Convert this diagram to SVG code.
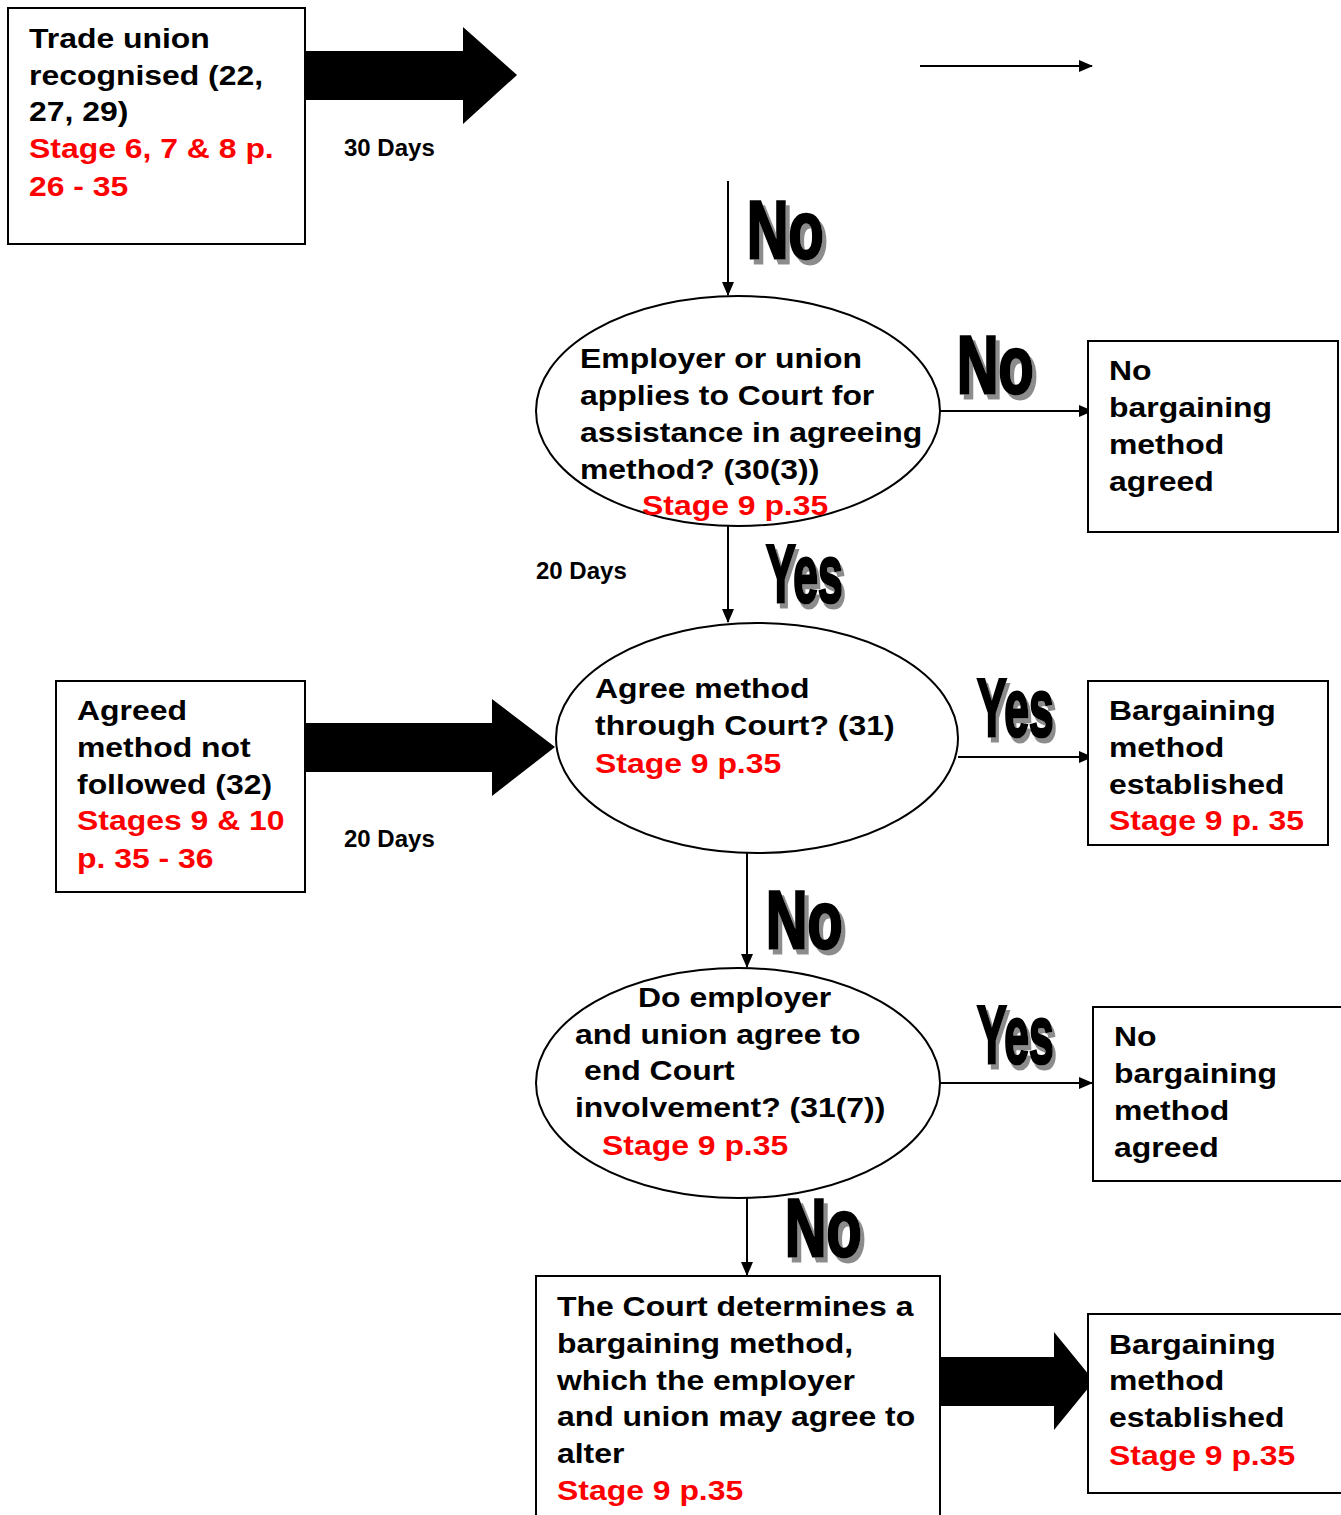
<svg xmlns="http://www.w3.org/2000/svg" width="1341" height="1515" viewBox="0 0 1341 1515">
<style>
.box{fill:#fff;stroke:#000;stroke-width:2}
.t{font-family:"Liberation Sans",Arial,sans-serif;font-weight:bold;font-size:28px;fill:#000}
.r{fill:#f00}
.d{font-family:"Liberation Sans",Arial,sans-serif;font-weight:bold;font-size:24px;fill:#000}
.ln{stroke:#000;stroke-width:2;fill:none}
.big{fill:#000}
.w{font-family:"Liberation Sans",Arial,sans-serif;font-weight:bold;font-size:81px;fill:#000;stroke:#000;stroke-width:3;filter:url(#sh)}
</style>
<defs>
<marker id="ah" markerWidth="14" markerHeight="12" refX="13" refY="6" orient="auto" markerUnits="userSpaceOnUse">
<path d="M0,0 L14,6 L0,12 Z" fill="#000"/>
</marker>
<filter id="sh" x="-20%" y="-20%" width="150%" height="150%">
<feOffset in="SourceAlpha" dx="6" dy="5" result="o"/>
<feFlood flood-color="#8c8c8c"/>
<feComposite in2="o" operator="in" result="s"/>
<feMerge><feMergeNode in="s"/><feMergeNode in="SourceGraphic"/></feMerge>
</filter>
</defs>
<rect width="1341" height="1515" fill="#fff"/>

<g id="connectors">
<path class="big" d="M305,51 H463 V27 L517,75 L463,124 V100 H305 Z"/>
<line class="ln" x1="920" y1="66" x2="1092" y2="66" marker-end="url(#ah)"/>
<line class="ln" x1="728" y1="181" x2="728" y2="295" marker-end="url(#ah)"/>
<line class="ln" x1="940" y1="411" x2="1092" y2="411" marker-end="url(#ah)"/>
<line class="ln" x1="728" y1="526" x2="728" y2="622" marker-end="url(#ah)"/>
<path class="big" d="M305,723 H492 V699 L555,747 L492,796 V772 H305 Z"/>
<line class="ln" x1="958" y1="757" x2="1092" y2="757" marker-end="url(#ah)"/>
<line class="ln" x1="747" y1="853" x2="747" y2="967" marker-end="url(#ah)"/>
<line class="ln" x1="940" y1="1083" x2="1092" y2="1083" marker-end="url(#ah)"/>
<line class="ln" x1="747" y1="1198" x2="747" y2="1275" marker-end="url(#ah)"/>
<path class="big" d="M940,1357 H1054 V1332 L1094,1381 L1054,1430 V1406 H940 Z"/>
</g>

<g id="labels">
<text class="d" x="344" y="156">30 Days</text>
<text class="d" x="536" y="579">20 Days</text>
<text class="d" x="344" y="847">20 Days</text>
<text id="no1" class="w" transform="translate(747,258) scale(0.71,1)">No</text>
<text id="no2" class="w" transform="translate(957,393) scale(0.71,1)">No</text>
<text id="yes1" class="w" transform="translate(766,602) scale(0.55,1)">Yes</text>
<text id="yes2" class="w" transform="translate(977,736) scale(0.55,1)">Yes</text>
<text id="no3" class="w" transform="translate(766,948) scale(0.71,1)">No</text>
<text id="yes3" class="w" transform="translate(977,1063) scale(0.55,1)">Yes</text>
<text id="no4" class="w" transform="translate(785,1256) scale(0.71,1)">No</text>
</g>

<g id="n-recognised">
<rect class="box" x="8" y="8" width="297" height="236"/>
<text class="t" transform="translate(29,48) scale(1.14,1)">Trade union</text>
<text class="t" transform="translate(29,85) scale(1.14,1)">recognised (22,</text>
<text class="t" transform="translate(29,121) scale(1.14,1)">27, 29)</text>
<text class="t r" transform="translate(29,158) scale(1.14,1)">Stage 6, 7 &amp; 8 p.</text>
<text class="t r" transform="translate(29,196) scale(1.14,1)">26 - 35</text>
</g>

<g id="n-applies">
<ellipse class="box" cx="738" cy="411" rx="202" ry="115"/>
<text class="t" transform="translate(580,368) scale(1.14,1)">Employer or union</text>
<text class="t" transform="translate(580,405) scale(1.14,1)">applies to Court for</text>
<text class="t" transform="translate(580,442) scale(1.14,1)">assistance in agreeing</text>
<text class="t" transform="translate(580,479) scale(1.14,1)">method? (30(3))</text>
<text class="t r" transform="translate(642,515) scale(1.14,1)">Stage 9 p.35</text>
</g>

<g id="n-nomethod1">
<rect class="box" x="1088" y="341" width="250" height="191"/>
<text class="t" transform="translate(1109,380) scale(1.14,1)">No</text>
<text class="t" transform="translate(1109,417) scale(1.14,1)">bargaining</text>
<text class="t" transform="translate(1109,454) scale(1.14,1)">method</text>
<text class="t" transform="translate(1109,491) scale(1.14,1)">agreed</text>
</g>

<g id="n-notfollowed">
<rect class="box" x="56" y="681" width="249" height="211"/>
<text class="t" transform="translate(77,720) scale(1.14,1)">Agreed</text>
<text class="t" transform="translate(77,757) scale(1.14,1)">method not</text>
<text class="t" transform="translate(77,794) scale(1.14,1)">followed (32)</text>
<text class="t r" transform="translate(77,830) scale(1.14,1)">Stages 9 &amp; 10</text>
<text class="t r" transform="translate(77,868) scale(1.14,1)">p. 35 - 36</text>
</g>

<g id="n-agree">
<ellipse class="box" cx="757" cy="738" rx="201" ry="115"/>
<text class="t" transform="translate(595,698) scale(1.14,1)">Agree method</text>
<text class="t" transform="translate(595,735) scale(1.14,1)">through Court? (31)</text>
<text class="t r" transform="translate(595,773) scale(1.14,1)">Stage 9 p.35</text>
</g>

<g id="n-established1">
<rect class="box" x="1088" y="681" width="240" height="164"/>
<text class="t" transform="translate(1109,720) scale(1.14,1)">Bargaining</text>
<text class="t" transform="translate(1109,757) scale(1.14,1)">method</text>
<text class="t" transform="translate(1109,794) scale(1.14,1)">established</text>
<text class="t r" transform="translate(1109,830) scale(1.14,1)">Stage 9 p. 35</text>
</g>

<g id="n-end">
<ellipse class="box" cx="738" cy="1083" rx="202" ry="115"/>
<text class="t" transform="translate(638,1007) scale(1.14,1)">Do employer</text>
<text class="t" transform="translate(575,1044) scale(1.14,1)">and union agree to</text>
<text class="t" transform="translate(584,1080) scale(1.14,1)">end Court</text>
<text class="t" transform="translate(575,1117) scale(1.14,1)">involvement? (31(7))</text>
<text class="t r" transform="translate(602,1155) scale(1.14,1)">Stage 9 p.35</text>
</g>

<g id="n-nomethod2">
<rect class="box" x="1093" y="1007" width="260" height="174"/>
<text class="t" transform="translate(1114,1046) scale(1.14,1)">No</text>
<text class="t" transform="translate(1114,1083) scale(1.14,1)">bargaining</text>
<text class="t" transform="translate(1114,1120) scale(1.14,1)">method</text>
<text class="t" transform="translate(1114,1157) scale(1.14,1)">agreed</text>
</g>

<g id="n-determines">
<rect class="box" x="536" y="1276" width="404" height="250"/>
<text class="t" transform="translate(557,1316) scale(1.14,1)">The Court determines a</text>
<text class="t" transform="translate(557,1353) scale(1.14,1)">bargaining method,</text>
<text class="t" transform="translate(557,1390) scale(1.14,1)">which the employer</text>
<text class="t" transform="translate(557,1426) scale(1.14,1)">and union may agree to</text>
<text class="t" transform="translate(557,1463) scale(1.14,1)">alter</text>
<text class="t r" transform="translate(557,1500) scale(1.14,1)">Stage 9 p.35</text>
</g>

<g id="n-established2">
<rect class="box" x="1088" y="1314" width="265" height="179"/>
<text class="t" transform="translate(1109,1354) scale(1.14,1)">Bargaining</text>
<text class="t" transform="translate(1109,1390) scale(1.14,1)">method</text>
<text class="t" transform="translate(1109,1427) scale(1.14,1)">established</text>
<text class="t r" transform="translate(1109,1465) scale(1.14,1)">Stage 9 p.35</text>
</g>
</svg>
